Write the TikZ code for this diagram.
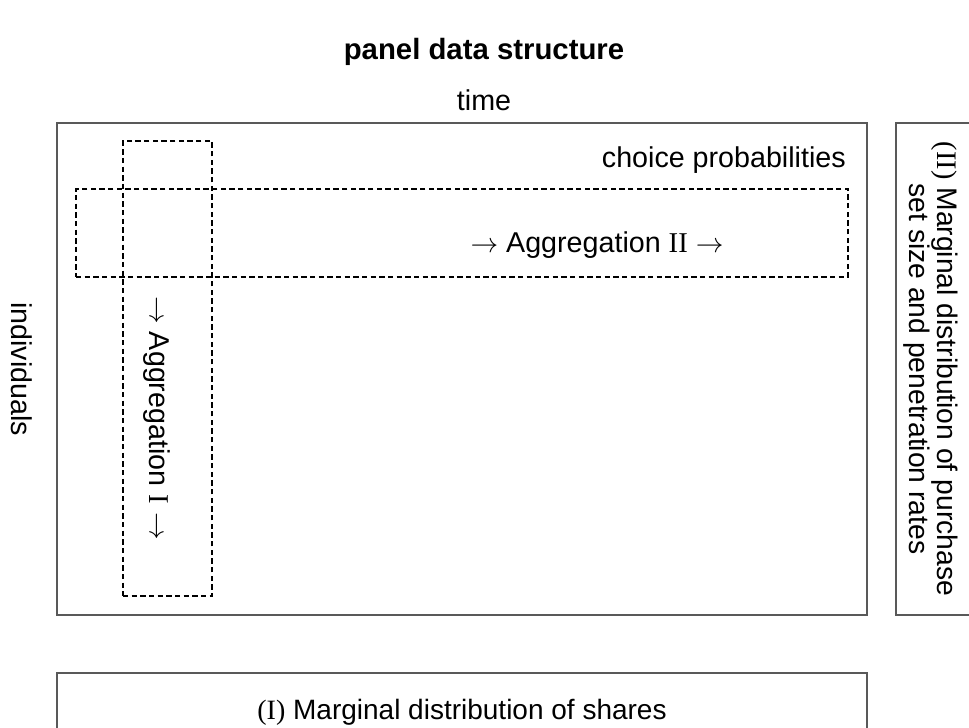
\documentclass[tikz,border=0pt]{standalone}
\usepackage{fontspec}
\setmainfont{Liberation Sans}
\newfontfamily\romfont{Liberation Serif}
\usetikzlibrary{fit}
\newcommand{\rn}[1]{{\romfont #1}}
\begin{document}
\begin{tikzpicture}[x=0.75pt,y=-0.75pt,
  box/.style={draw=black!65,line width=1.1pt,inner sep=0pt},
  dbox/.style={draw=black,line width=1.1pt,dashed,dash pattern=on 4pt off 2.5pt,inner sep=0pt},
  txt/.style={font=\fontsize{21.5}{25}\selectfont,inner sep=0pt}]
\useasboundingbox (0,0) rectangle (969,727);
\begin{scope}
\clip (0,0) rectangle (969,727);
\node[box,fit={(57,123) (867,615)}] (main) {};
\node[box,fit={(896,123) (990,615)}] (right) {};
\node[box,fit={(57,673) (867,760)}] (bottom) {};
\end{scope}
\node[dbox,fit={(123,141) (212,596)}] (aggI) {};
\node[dbox,fit={(76,189) (848,277)}] (aggII) {};
\node[txt,font=\fontsize{22}{26}\selectfont\bfseries] (title) at (484,52) {panel data structure};
\node[txt] (time) at (484,100) {time};
\node[txt,anchor=east] (cp) at (846,160) {choice probabilities};
\node[txt] (a2) at (597,245) {$\rightarrow$ Aggregation \rn{II} $\rightarrow$};
\node[txt,rotate=-90] (ind) at (22,369) {individuals};
\node[txt,rotate=-90] (a1) at (157,418) {$\rightarrow$ Aggregation \rn{I} $\rightarrow$};
\node[txt,rotate=-90,align=center,font=\fontsize{21.2}{21}\selectfont] (rt) at (931,369) {\rn{(II)} Marginal distribution of purchase\\set size and penetration rates};
\node[txt,font=\fontsize{21}{25}\selectfont] (bt) at (462,712) {\rn{(I)} Marginal distribution of shares};
\end{tikzpicture}
\end{document}
